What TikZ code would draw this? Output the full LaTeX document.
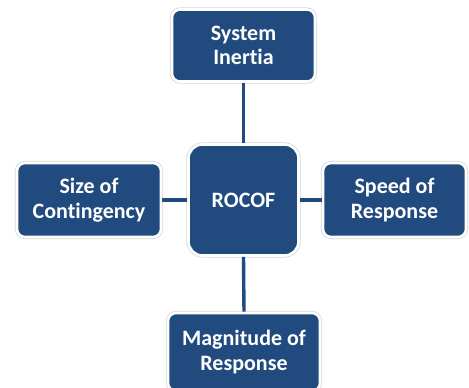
\documentclass[tikz,border=0pt]{standalone}
\usepackage{fontspec}
\setmainfont[Ligatures=NoCommon]{Carlito}
\definecolor{boxblue}{RGB}{33,74,127}
\definecolor{rimgray}{RGB}{215,215,215}
\tikzset{
  blk/.style={rectangle, rounded corners=8pt, fill=boxblue, draw=white, line width=2.6pt,
    preaction={draw=rimgray, line width=4.2pt},
    text=white, font=\bfseries\fontsize{22}{24.5}\selectfont, align=center,
    inner sep=0pt},
  link/.style={draw=boxblue, line width=3.4pt}
}
\begin{document}
\begin{tikzpicture}[x=1pt,y=-1pt]
\useasboundingbox (0,0) rectangle (469,388);
\clip (0,0) rectangle (469,388);
\fill[white] (0,0) rectangle (469,388);
\node[blk, minimum width=143pt, minimum height=72pt] (top) at (243.5,45.5) {System\\Inertia};
\node[blk, rounded corners=14pt, minimum width=110pt, minimum height=111pt] (mid) at (243.5,200) {ROCOF};
\node[blk, minimum width=144pt, minimum height=74pt] (left) at (89,200) {Size of\\Contingency};
\node[blk, minimum width=143pt, minimum height=74pt] (right) at (394.5,200) {Speed of\\Response};
\node[blk, minimum width=152pt, minimum height=78pt] (bot) at (244,352) {Magnitude of\\Response};
\draw[link] (top.south) -- (mid.north);
\draw[link] (mid.south) -- (bot.north);
\draw[link] (left.east) -- (mid.west);
\draw[link] (mid.east) -- (right.west);
\end{tikzpicture}
\end{document}
